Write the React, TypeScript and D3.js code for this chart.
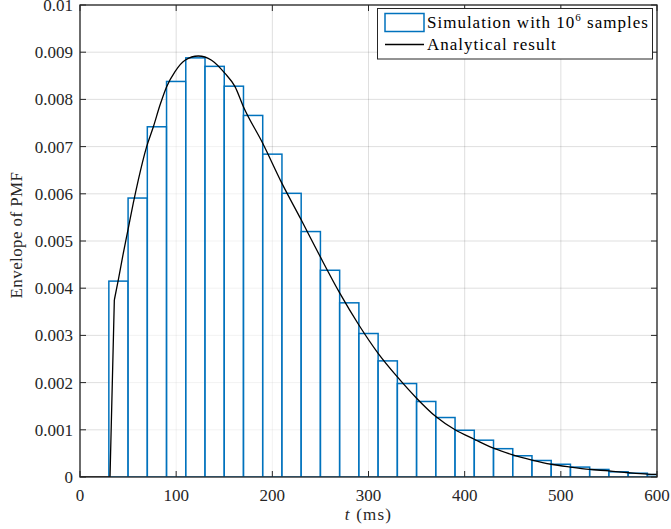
import React from 'react';
import * as d3 from 'd3';

// Histogram bins (left edge, ms) and heights
const binStarts = [30, 50, 70, 90, 110, 130, 150, 170, 190, 210, 230, 250, 270, 290, 310, 330, 350, 370, 390, 410, 430, 450, 470, 490, 510, 530, 550, 570, 590];
const binValues = [0.00415, 0.00591, 0.00742, 0.00838, 0.00888, 0.0087, 0.00828, 0.00766, 0.00684, 0.00601, 0.0052, 0.00438, 0.00369, 0.00304, 0.00246, 0.00198, 0.0016, 0.00126, 0.00099, 0.00078, 0.0006, 0.00045, 0.00035, 0.00027, 0.00021, 0.00016, 0.00011, 0.00008, 0.00005];
const binWidth = 20;

// Analytical curve
const curveT = [0, 31.2, 35.7, 39.8, 45, 50.2, 55.4, 60.6, 69.3, 76.3, 83.2, 90.1, 98.8, 109.2, 123, 136.8, 150.8, 161.2, 169.8, 190, 210, 230, 250, 270, 290, 310, 330, 350, 370, 390, 410, 430, 450, 470, 490, 510, 530, 550, 570, 590, 600];
const curveV = [0, 0, 0.00375, 0.00417, 0.00474, 0.00527, 0.0058, 0.00629, 0.007, 0.00742, 0.00788, 0.00827, 0.00859, 0.00883, 0.00892, 0.00883, 0.00855, 0.00827, 0.00785, 0.00707, 0.00622, 0.00545, 0.00466, 0.0039, 0.00322, 0.00262, 0.00212, 0.00167, 0.00128, 0.001, 0.0008, 0.00061, 0.00047, 0.00036, 0.00027, 0.00021, 0.00016, 0.00013, 0.00009, 0.00006, 0.000055];

const xTicks = [0, 100, 200, 300, 400, 500, 600];
const yTicks = [0, 0.001, 0.002, 0.003, 0.004, 0.005, 0.006, 0.007, 0.008, 0.009, 0.01];
const yTickLabels = ['0', '0.001', '0.002', '0.003', '0.004', '0.005', '0.006', '0.007', '0.008', '0.009', '0.01'];

const W = 671, H = 529;
const L = 80, R = 657, T = 5, B = 477;
const BLUE = '#0072BD';
const AX = '#262626';
const FONT = '"Liberation Serif", "Times New Roman", serif';

export default function App() {
  const x = d3.scaleLinear().domain([0, 600]).range([L, R]);
  const y = d3.scaleLinear().domain([0, 0.01]).range([B, T]);
  const pts = curveT.map((t, i) => [t, curveV[i]] as [number, number]);
  const lineLin = d3.line<[number, number]>().x(d => x(d[0])).y(d => y(d[1]));
  const lineSmooth = d3.line<[number, number]>().x(d => x(d[0])).y(d => y(d[1])).curve(d3.curveMonotoneX);
  const tk = 6;
  return (
    <svg width={W} height={H} style={{ position: 'absolute', left: 0, top: 0, background: '#fff' }} fontFamily={FONT}>
      <defs>
        <clipPath id="plotclip"><rect x={L} y={T} width={R - L} height={B - T} /></clipPath>
      </defs>
      <rect x={0} y={0} width={W} height={H} fill="#fff" />
      {/* grid */}
      {xTicks.map(t => (
        <line key={'gx' + t} x1={x(t)} x2={x(t)} y1={T} y2={B} stroke="#262626" strokeOpacity={0.15} strokeWidth={1} />
      ))}
      {yTicks.map(t => (
        <line key={'gy' + t} x1={L} x2={R} y1={y(t)} y2={y(t)} stroke="#262626" strokeOpacity={0.15} strokeWidth={1} />
      ))}
      {/* bars */}
      <g clipPath="url(#plotclip)">
        {binStarts.map((s, i) => (
          <rect key={'b' + s} x={x(s)} y={y(binValues[i])} width={x(s + binWidth) - x(s)} height={y(0) - y(binValues[i])}
            fill="#fff" fillOpacity={0.6} stroke={BLUE} strokeWidth={1.5} />
        ))}
        <path d={lineLin(pts.slice(0, 3)) || ''} fill="none" stroke="#000" strokeWidth={1.3} strokeLinejoin="round" />
        <path d={lineSmooth(pts.slice(2)) || ''} fill="none" stroke="#000" strokeWidth={1.3} />
      </g>
      {/* axes box */}
      <rect x={L} y={T} width={R - L} height={B - T} fill="none" stroke={AX} strokeWidth={1.3} />
      {xTicks.map(t => (
        <g key={'xt' + t}>
          <line x1={x(t)} x2={x(t)} y1={B} y2={B - tk} stroke={AX} strokeWidth={1} />
          <line x1={x(t)} x2={x(t)} y1={T} y2={T + tk} stroke={AX} strokeWidth={1} />
          <text x={x(t)} y={501} textAnchor="middle" fontSize={17} fill={AX}>{t}</text>
        </g>
      ))}
      {yTicks.map((t, i) => (
        <g key={'yt' + t}>
          <line x1={L} x2={L + tk} y1={y(t)} y2={y(t)} stroke={AX} strokeWidth={1} />
          <line x1={R} x2={R - tk} y1={y(t)} y2={y(t)} stroke={AX} strokeWidth={1} />
          <text x={73} y={y(t)} dy="0.35em" textAnchor="end" fontSize={17} fill={AX}>{yTickLabels[i]}</text>
        </g>
      ))}
      {/* axis labels */}
      <text x={368.5} y={520} textAnchor="middle" fontSize={17} fill={AX} letterSpacing={1.2}>
        <tspan fontStyle="italic">t</tspan> (ms)
      </text>
      <text transform={`translate(22, ${(T + B) / 2 - 6}) rotate(-90)`} textAnchor="middle" fontSize={17} fill={AX} letterSpacing={0.4}>Envelope of PMF</text>
      {/* legend */}
      <rect x={377.5} y={8.5} width={275} height={50.5} fill="#fff" stroke={AX} strokeWidth={1} />
      <rect x={385} y={13.5} width={39} height={18} fill="#fff" stroke={BLUE} strokeWidth={1.5} />
      <line x1={385} x2={424} y1={44.5} y2={44.5} stroke="#000" strokeWidth={1.3} />
      <text x={427} y={28} fontSize={17} fill="#000" letterSpacing={1}>
        Simulation with 10<tspan dy={-7} fontSize={11}>6</tspan><tspan dy={7}> samples</tspan>
      </text>
      <text x={427} y={50} fontSize={17} fill="#000" letterSpacing={1}>Analytical result</text>
    </svg>
  );
}
